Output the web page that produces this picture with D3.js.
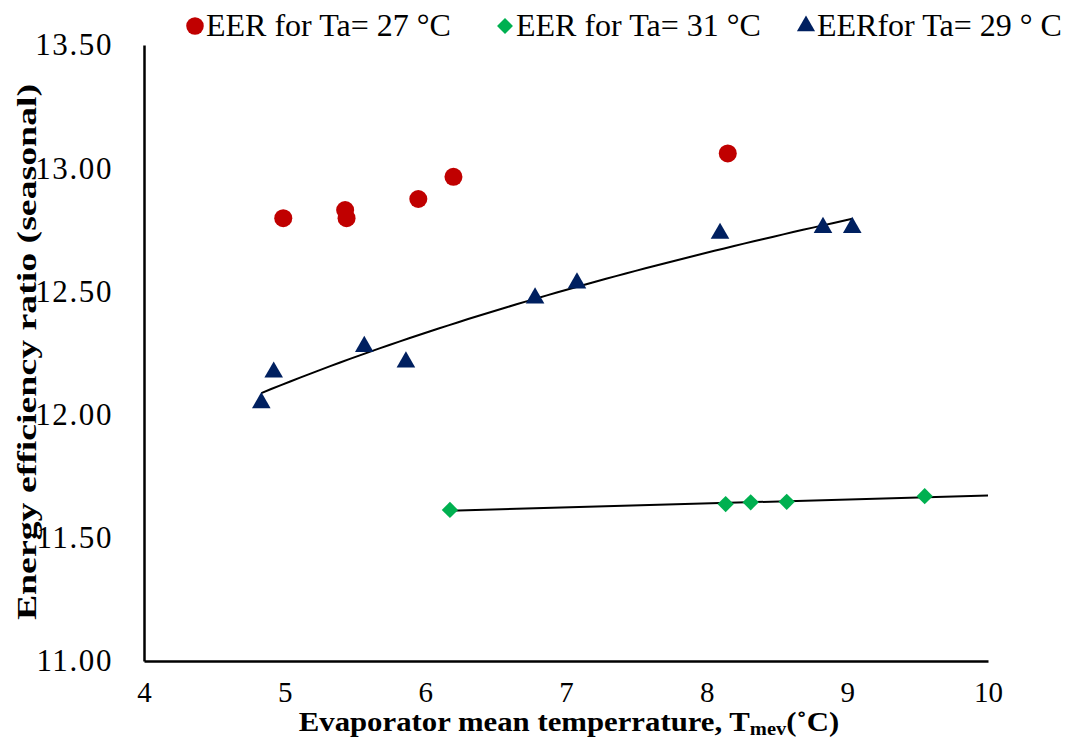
<!DOCTYPE html>
<html>
<head>
<meta charset="utf-8">
<script src="https://cdn.jsdelivr.net/npm/d3@7"></script>
<style>
  body { margin: 0; background: #fff; }
  svg text { font-family: "Liberation Serif", Tinos, "Times New Roman", "DejaVu Serif", serif !important; }
</style>
</head>
<body>
<div id="chart"></div>
<script>
// EER vs evaporator mean temperature, three ambient temperatures.
const xTicks = [4, 5, 6, 7, 8, 9, 10];
const yTicks = [11.0, 11.5, 12.0, 12.5, 13.0, 13.5];

const t27X = [4.99, 5.43, 5.44, 5.95, 6.20, 8.15];
const t27Y = [12.797, 12.83, 12.797, 12.875, 12.965, 13.06];

const t31X = [6.175, 8.135, 8.313, 8.569, 9.55];
const t31Y = [11.613, 11.637, 11.644, 11.646, 11.669];

const t29X = [4.834, 4.922, 5.566, 5.862, 6.78, 7.078, 8.095, 8.827, 9.035];
const t29Y = [12.048, 12.172, 12.276, 12.213, 12.473, 12.534, 12.735, 12.759, 12.759];

const legendLabels = ['EER for Ta= 27 °C', 'EER for Ta= 31 °C', 'EERfor Ta= 29 ° C'];

const serif = '"Liberation Serif", Tinos, "Times New Roman", "DejaVu Serif", serif';
const width = 1076, height = 740;
const m = { top: 45, right: 88, bottom: 79, left: 144 };
const innerW = width - m.left - m.right;
const innerH = height - m.top - m.bottom;

const svg = d3.select('#chart').append('svg').attr('width', width).attr('height', height);
const g = svg.append('g').attr('transform', `translate(${m.left},${m.top})`);

const x = d3.scaleLinear().domain([4, 10]).range([0, innerW]);
const y = d3.scaleLinear().domain([11, 13.5]).range([innerH, 0]);

// Axes: plain lines, no tick marks.
const xAxis = g.append('g')
  .attr('transform', `translate(0,${innerH})`)
  .call(d3.axisBottom(x).tickValues(xTicks).tickSize(0).tickPadding(20).tickFormat(d3.format('d')));
const yAxis = g.append('g')
  .call(d3.axisLeft(y).tickValues(yTicks).tickSize(0).tickPadding(31).tickFormat(d3.format('.2f')));
[xAxis, yAxis].forEach(a => {
  a.attr('font-family', null);
  a.select('.domain').attr('stroke', '#000').attr('stroke-width', 2.5);
  a.selectAll('text').style('font-family', serif).attr('font-size', 29).attr('fill', '#000');
});
xAxis.selectAll('text').attr('dy', '0.71em');
yAxis.selectAll('text').attr('font-size', 31).attr('letter-spacing', 1.6);

// Least-squares fits, as Excel trendlines.
function linFit(xs, ys) {
  const mx = d3.mean(xs), my = d3.mean(ys);
  const b = d3.sum(xs, (v, i) => (v - mx) * (ys[i] - my)) / d3.sum(xs, v => (v - mx) ** 2);
  return { a: my - b * mx, b };
}
const logFit = linFit(t29X.map(Math.log), t29Y);
const linFit31 = linFit(t31X, t31Y);

const line = d3.line().x(d => x(d[0])).y(d => y(d[1]));
const logPts = d3.range(0, 61).map(i => {
  const xv = d3.min(t29X) + (d3.max(t29X) - d3.min(t29X)) * i / 60;
  return [xv, logFit.a + logFit.b * Math.log(xv)];
});
const linPts = [d3.min(t31X), 10].map(xv => [xv, linFit31.a + linFit31.b * xv]);

g.append('path').datum(logPts).attr('fill', 'none').attr('stroke', '#000').attr('stroke-width', 2).attr('d', line);
g.append('path').datum(linPts).attr('fill', 'none').attr('stroke', '#000').attr('stroke-width', 2).attr('d', line);

const series = [
  { xs: t27X, ys: t27Y, color: '#C00000', shape: d3.symbolCircle, size: 255 },
  { xs: t31X, ys: t31Y, color: '#00B050', shape: d3.symbolDiamond2, size: 170 },
  { xs: t29X, ys: t29Y, color: '#002060', shape: d3.symbolTriangle, size: 150 }
];

series.forEach(s => {
  const sym = d3.symbol().type(s.shape).size(s.size);
  g.selectAll(null)
    .data(s.xs.map((v, i) => [v, s.ys[i]]))
    .enter()
    .append('path')
    .attr('d', sym)
    .attr('transform', d => `translate(${x(d[0])},${y(d[1])})`)
    .attr('fill', s.color);
});

// Legend across the top.
const legendX = [195, 505, 806];
series.forEach((s, i) => {
  const lg = svg.append('g').attr('transform', `translate(${legendX[i]},26)`);
  lg.append('path').attr('d', d3.symbol().type(s.shape).size(s.size * 0.95)).attr('fill', s.color);
  lg.append('text').attr('x', 11).attr('y', 10).style('font-family', serif)
    .attr('font-size', 32).attr('fill', '#000').text(legendLabels[i]);
});

// Axis titles (the source renders them slightly stretched).
const xt = svg.append('text')
  .attr('transform', 'translate(569,731) scale(1.14,1)')
  .attr('text-anchor', 'middle').style('font-family', serif)
  .attr('font-size', 27).attr('font-weight', 'bold').attr('fill', '#000');
xt.append('tspan').text('Evaporator mean temperrature, T');
xt.append('tspan').attr('font-size', 18).attr('dy', 4).text('mev');
xt.append('tspan').attr('dy', -4).text('(˚C)');

svg.append('text')
  .attr('transform', 'translate(36,352) rotate(-90) scale(1.35,1)')
  .attr('text-anchor', 'middle').style('font-family', serif)
  .attr('font-size', 28).attr('font-weight', 'bold').attr('fill', '#000')
  .text('Energy efficiency ratio (seasonal)');
</script>
</body>
</html>
